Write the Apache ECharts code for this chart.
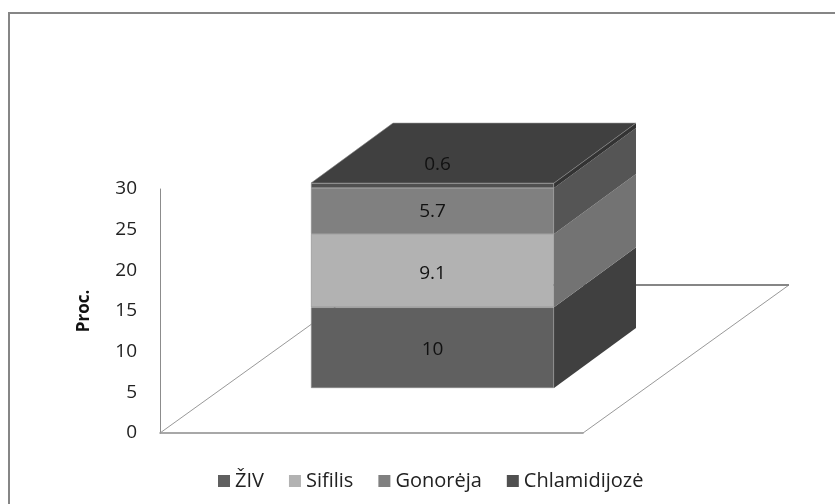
<!DOCTYPE html>
<html><head><meta charset="utf-8">
<style>html,body{margin:0;padding:0;background:#fff}#c{width:835px;height:504px}</style>
<script src="https://cdn.jsdelivr.net/npm/echarts@6/dist/echarts.min.js"></script>
</head><body><div id="c"></div>
<script>
const categories = ['2010'];
const seriesNames = ['ŽIV', 'Sifilis', 'Gonorėja', 'Chlamidijozė'];
const seriesValues = [[10], [9.1], [5.7], [0.6]];
const yTicks = [0, 5, 10, 15, 20, 25, 30];

const frontColors = ['#606060', '#b2b2b2', '#808080', '#505050'];
const sideColors = ['#404040', '#737373', '#555555', '#333333'];
const legendColors = ['#606060', '#b2b2b2', '#808080', '#505050'];
const labelOffsets = [[0, 2], [0, 3], [0, 1], [5, -21]];
const topColor = '#404040';
const edgeColor = '#8a8a8a';
const FONT = '"Open Sans"';
const DX = 82, DY = 60;

const chart = echarts.init(document.getElementById('c'), null, {renderer: 'canvas'});

const bases = [];
seriesValues.reduce((s, v, i) => { bases[i] = s; return s + v[0]; }, 0);

const barSeries = seriesNames.map((name, i) => ({
  name, type: 'bar', stack: 'total', xAxisIndex: 1, yAxisIndex: 1, barWidth: '100%', z: 5,
  data: seriesValues[i],
  itemStyle: {color: frontColors[i], borderColor: edgeColor, borderWidth: 0.6},
  label: {show: true, position: 'inside', color: '#111', fontFamily: FONT, fontSize: 19,
          offset: labelOffsets[i],
          formatter: p => String(p.value)}
}));

const sideSeries = {
  name: '3d', type: 'custom', xAxisIndex: 1, yAxisIndex: 1, z: 4, silent: true,
  data: seriesNames.map((n, i) => [0, bases[i], bases[i] + seriesValues[i][0], i]),
  renderItem(params, api) {
    const lo = api.coord([api.value(0), api.value(1)]);
    const hi = api.coord([api.value(0), api.value(2)]);
    const w = api.size([1, 0])[0];
    const x = lo[0] + w / 2;
    const idx = api.value(3);
    const children = [{
      type: 'polygon',
      shape: {points: [[x, lo[1]], [x + DX, lo[1] - DY], [x + DX, hi[1] - DY], [x, hi[1]]]},
      style: {fill: sideColors[idx]}
    }];
    if (idx === seriesNames.length - 1) {
      const xl = x - w;
      children.push({
        type: 'polygon',
        shape: {points: [[xl, hi[1]], [x, hi[1]], [x + DX, hi[1] - DY], [xl + DX, hi[1] - DY]]},
        style: {fill: topColor, stroke: edgeColor, lineWidth: 0.6}
      });
    }
    return {type: 'group', children};
  }
};

const floorSeries = {
  name: 'floor', type: 'custom', xAxisIndex: 0, yAxisIndex: 0, z: 1, silent: true,
  data: [[0, 0]],
  clip: false,
  renderItem(params, api) {
    const o = api.coord([0, 0]);
    const w = api.size([1, 0])[0];
    const xl = o[0] - w / 2, xr = o[0] + w / 2, y = o[1];
    const bx = 206, by = 148;
    return {type: 'group', children: [
      {type: 'polyline',
       shape: {points: [[xl, y], [xl + bx, y - by]]},
       style: {fill: null, stroke: '#999999', lineWidth: 1}},
      {type: 'polyline',
       shape: {points: [[xr + bx, y - by], [xr, y]]},
       style: {fill: null, stroke: '#999999', lineWidth: 1}},
      {type: 'line',
       shape: {x1: xl + bx, y1: y - by, x2: xr + bx, y2: y - by},
       style: {stroke: '#868686', lineWidth: 2}}
    ]};
  }
};

chart.setOption({
  animation: false,
  backgroundColor: '#fff',
  graphic: [{type: 'polyline', z: 0, shape: {points: [[9, 504], [9, 13], [835, 13]]},
    style: {fill: null, stroke: '#868686', lineWidth: 2}}],
  grid: [
    {left: 160, top: 189, width: 423, height: 244},
    {left: 311, top: 146, width: 243, height: 242}
  ],
  xAxis: [
    {type: 'category', gridIndex: 0, data: categories, boundaryGap: true,
     axisLine: {lineStyle: {color: '#8c8c8c', width: 1.5}}, axisTick: {show: false}, axisLabel: {show: false}},
    {type: 'category', gridIndex: 1, data: categories, show: false}
  ],
  yAxis: [
    {type: 'value', gridIndex: 0, min: 0, max: 30, interval: 5, name: 'Proc.',
     nameLocation: 'middle', nameGap: 67,
     nameTextStyle: {color: '#111', fontFamily: FONT, fontWeight: 'bold', fontSize: 17},
     axisLine: {show: true, lineStyle: {color: '#8c8c8c', width: 1}}, axisTick: {show: false},
     splitLine: {show: false},
     axisLabel: {color: '#222', fontFamily: FONT, fontSize: 19, margin: 23, padding: [10, 0, 0, 0],
       formatter: v => yTicks.includes(v) ? String(v) : ''}},
    {type: 'value', gridIndex: 1, min: 0, max: 30, show: false}
  ],
  legend: {
    left: 213, top: 466, itemWidth: 12, itemHeight: 12, itemGap: 25,
    icon: 'rect',
    textStyle: {color: '#222', fontFamily: FONT, fontSize: 20},
    data: seriesNames.map((name, i) => ({name, itemStyle: {color: legendColors[i], borderWidth: 0}}))
  },
  series: [floorSeries, sideSeries, ...barSeries]
});
</script></body></html>
